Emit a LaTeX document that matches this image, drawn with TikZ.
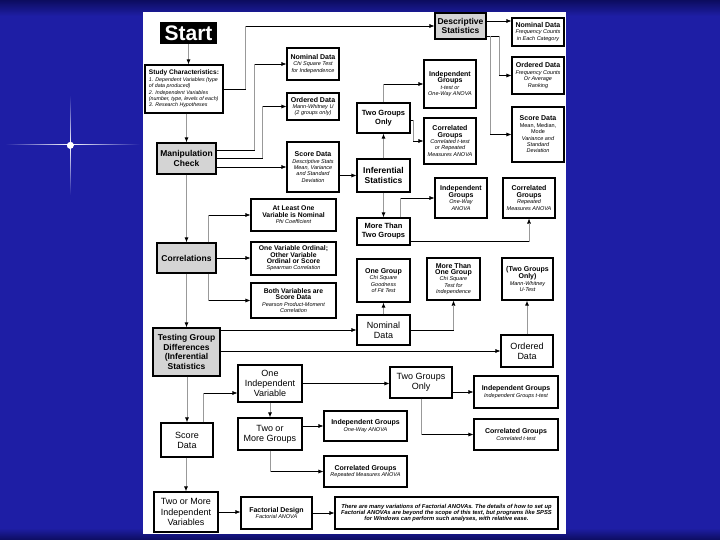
\documentclass[tikz,border=0pt]{standalone}
\usepackage{fontspec}
\setmainfont{Liberation Sans}
\usetikzlibrary{arrows.meta,fadings}
\definecolor{bgdark}{RGB}{12,12,95}
\definecolor{bgmid}{RGB}{30,30,165}
\definecolor{boxgray}{RGB}{212,212,212}
\tikzfading[name=fadeleft, left color=transparent!100, right color=transparent!0]
\tikzfading[name=faderight, left color=transparent!0, right color=transparent!100]
\tikzfading[name=fadeup, bottom color=transparent!0, top color=transparent!100]
\tikzfading[name=fadedown, top color=transparent!0, bottom color=transparent!100]
\newcommand{\ttl}[1]{{\fontsize{7}{8}\selectfont\bfseries\upshape #1}}
\newcommand{\ttm}[1]{{\fontsize{6.8}{7.8}\selectfont\bfseries\upshape #1}}
\tikzset{
  x=1pt, y=-1pt,
  box/.style={draw=black, line width=1.1pt, fill=white, inner sep=1pt, align=center,
    font=\fontsize{5.5}{6.4}\selectfont\itshape},
  graybox/.style={box, fill=boxgray, font=\fontsize{8.5}{9.6}\selectfont\bfseries},
  bigbox/.style={box, font=\fontsize{8.5}{9.6}\selectfont\bfseries},
  medbox/.style={box, font=\fontsize{9}{10.2}\selectfont},
  startbox/.style={fill=black, text=white, inner sep=0pt, minimum width=57pt, minimum height=22pt,
    font=\fontsize{21}{21}\selectfont\bfseries},
  conn/.style={draw=black, line width=0.6pt, -{Latex[length=5pt,width=4pt]}},
  vconn/.style={draw=black!40, line width=1pt, -{Latex[length=5pt,width=4pt,color=black]}},
  vseg/.style={draw=black!40, line width=1pt},
}
\begin{document}
\begin{tikzpicture}
\useasboundingbox (0,0) rectangle (720,540);
% background
\fill[bgmid] (0,0) rectangle (720,540);
\shade[top color=bgdark, bottom color=bgmid] (0,0) rectangle (720,16);
\shade[top color=bgmid, bottom color=bgdark] (0,528) rectangle (720,540);
% sparkle
\fill[white, path fading=faderight] (70,144.5) rectangle (140,145.5);
\fill[white, path fading=fadeleft] (5,144.5) rectangle (70,145.5);
\fill[white, path fading=fadeup] (69.5,95) rectangle (70.5,145);
\fill[white, path fading=fadedown] (69.5,145) rectangle (70.5,195);
\fill[white, path fading=circle with fuzzy edge 20 percent] (70,145) circle (4);
% white panel
\fill[white] (143,12) rectangle (566,534);

% nodes
\node[startbox] (start) at (188.5,33) {Start};
\node[box, align=left, minimum width=78pt, minimum height=48pt, font=\fontsize{5.3}{6.4}\selectfont\itshape] (study) at (184,89)
  {{\fontsize{6.6}{8}\selectfont\bfseries\upshape Study Characteristics:}\\ 1. Dependent Variables (type\\ of data produced)\\ 2. Independent Variables\\ (number, type, levels of each)\\ 3. Research Hypotheses};
\node[graybox, minimum width=51pt, minimum height=26pt] (desc) at (460.5,26) {Descriptive\\Statistics};
\node[box, minimum width=52pt, minimum height=28pt] (nomD) at (538,32) {\ttl{Nominal Data}\\Frequency Counts\\in Each Category};
\node[box, minimum width=52pt, minimum height=37pt] (ordD) at (538,75.5) {\ttl{Ordered Data}\\Frequency Counts\\Or Average\\Ranking};
\node[box, minimum width=52pt, minimum height=55pt] (scoD) at (538,134.5) {\ttl{Score Data}\\\textup{Mean, Median,}\\\textup{Mode}\\Variance and\\Standard\\Deviation};
\node[box, minimum width=52pt, minimum height=32pt] (nomM) at (313,64) {\ttl{Nominal Data}\\Chi Square Test\\for Independence};
\node[box, minimum width=52pt, minimum height=27pt] (ordM) at (313,106.5) {\ttl{Ordered Data}\\Mann-Whitney U\\(2 groups only)};
\node[box, minimum width=52pt, minimum height=50pt] (scoM) at (313,167) {\ttl{Score Data}\\Descriptive Stats\\Mean, Variance\\and Standard\\Deviation};
\node[graybox, minimum width=59pt, minimum height=31pt] (manip) at (186.5,158.5) {Manipulation\\Check};
\node[box, minimum width=53pt, minimum height=30pt, font=\fontsize{7.5}{9}\selectfont\bfseries] (two1) at (383.5,118) {Two Groups\\Only};
\node[box, minimum width=52pt, minimum height=48pt] (indU) at (450,84) {\ttl{Independent}\\\ttl{Groups}\\t-test or\\One-Way ANOVA};
\node[box, minimum width=52pt, minimum height=46pt] (corU) at (450,141) {\ttl{Correlated}\\\ttl{Groups}\\Correlated t-test\\or Repeated\\Measures ANOVA};
\node[bigbox, minimum width=53pt, minimum height=33pt] (infer) at (383.5,175.5) {Inferential\\Statistics};
\node[box, minimum width=52pt, minimum height=40pt] (indL) at (461,198) {\ttl{Independent}\\\ttl{Groups}\\One-Way\\ANOVA};
\node[box, minimum width=52pt, minimum height=40pt] (corL) at (529,198) {\ttl{Correlated}\\\ttl{Groups}\\Repeated\\Measures ANOVA};
\node[box, minimum width=53pt, minimum height=27pt, font=\fontsize{7.5}{9}\selectfont\bfseries] (more2) at (383.5,231.5) {More Than\\Two Groups};
\node[box, minimum width=85pt, minimum height=32pt] (atl) at (293.5,215) {\ttm{At Least One}\\\ttm{Variable is Nominal}\\Phi Coefficient};
\node[box, minimum width=85pt, minimum height=33pt] (ovo) at (293.5,258.5) {\ttm{One Variable Ordinal;}\\\ttm{Other Variable}\\\ttm{Ordinal or Score}\\Spearman Correlation};
\node[box, minimum width=85pt, minimum height=35pt] (both) at (293.5,300.5) {\ttm{Both Variables are}\\\ttm{Score Data}\\Pearson Product-Moment\\Correlation};
\node[graybox, minimum width=59pt, minimum height=30pt] (corr) at (186.5,258) {Correlations};
\node[box, minimum width=53pt, minimum height=43pt] (oneG) at (383.5,280.5) {\ttl{One Group}\\Chi Square\\Goodness\\of Fit Test};
\node[box, minimum width=53pt, minimum height=42pt] (mtoG) at (453.5,279) {\ttl{More Than}\\\ttl{One Group}\\Chi Square\\Test for\\Independence};
\node[box, minimum width=51pt, minimum height=42pt] (twoO) at (527.5,279) {\ttl{(Two Groups}\\\ttl{Only)}\\Mann-Whitney\\U-Test};
\node[medbox, minimum width=53pt, minimum height=30pt] (nomI) at (383.5,330) {Nominal\\Data};
\node[medbox, minimum width=52pt, minimum height=32pt] (ordI) at (527,351) {Ordered\\Data};
\node[graybox, minimum width=67pt, minimum height=48pt] (test) at (186.5,352) {Testing Group\\Differences\\(Inferential\\Statistics};
\node[medbox, minimum width=64pt, minimum height=37pt] (oneIV) at (270,383.5) {One\\Independent\\Variable};
\node[medbox, minimum width=62pt, minimum height=31pt] (two2) at (421,382.5) {Two Groups\\Only};
\node[box, minimum width=84pt, minimum height=32pt] (indB) at (516,392) {\ttl{Independent Groups}\\Independent Groups t-test};
\node[medbox, minimum width=64pt, minimum height=32pt] (tomG) at (270,434) {Two or\\More Groups};
\node[box, minimum width=83pt, minimum height=30pt] (indA) at (365.5,426) {\ttl{Independent Groups}\\One-Way ANOVA};
\node[box, minimum width=84pt, minimum height=31pt] (corB) at (516,434.5) {\ttl{Correlated Groups}\\Correlated t-test};
\node[medbox, minimum width=52pt, minimum height=34pt] (scoL) at (187,440) {Score\\Data};
\node[box, minimum width=83pt, minimum height=31pt] (corM) at (365.5,471.5) {\ttl{Correlated Groups}\\Repeated Measures ANOVA};
\node[medbox, minimum width=64pt, minimum height=40pt] (tomIV) at (186,512) {Two or More\\Independent\\Variables};
\node[box, minimum width=71pt, minimum height=32pt] (fact) at (276.5,513) {\ttl{Factorial Design}\\Factorial ANOVA};
\node[box, minimum width=223pt, minimum height=32pt, font=\fontsize{5.8}{6.3}\selectfont\bfseries\itshape] (note) at (446.5,513)
  {There are many variations of Factorial ANOVAs. The details of how to set up\\Factorial ANOVAs are beyond the scope of this text, but programs like SPSS\\for Windows can perform such analyses, with relative ease.};

% connector bend points
\coordinate (kStudy) at ([xshift=22pt]study.east);
\coordinate (kNomM) at ([xshift=38pt,yshift=8.5pt]manip.east);
\coordinate (kOrdM) at ([xshift=46pt,yshift=0.5pt]manip.east);
\coordinate (kCorU) at ([xshift=3pt,yshift=-2pt]two1.east);
\coordinate (kIndL) at ([xshift=-10pt]more2.north east);
\coordinate (kCorL) at ([yshift=-10pt]more2.east);
\coordinate (kAtl) at ([xshift=-8pt]corr.north east);
\coordinate (kBoth) at ([xshift=-8pt]corr.south east);
\coordinate (kSco) at ([xshift=-10pt]scoL.north east);
\coordinate (kOneIV) at ([yshift=-9.5pt]oneIV.west);
\coordinate (kOrdD) at ([xshift=13pt,yshift=-10pt]desc.east);
\coordinate (kScoD) at ([xshift=4pt,yshift=-10pt]desc.east);

% connectors
\draw[vconn] (start.south) -- (start.south |- study.north);
\draw[conn] (study.east) -- (kStudy) |- (desc.west);
\draw[vseg] (kStudy) -- (kStudy |- desc.west);
\draw[vconn] (manip.north |- study.south) -- (manip.north);
\draw[conn] ([yshift=8.5pt]manip.east) -- (kNomM) |- (nomM.west);
\draw[vseg] (kNomM) -- (kNomM |- nomM.west);
\draw[conn] ([yshift=0.5pt]manip.east) -- (kOrdM) |- (ordM.west);
\draw[vseg] (kOrdM) -- (kOrdM |- ordM.west);
\draw[conn] ([yshift=-8.5pt]manip.east) -- ([yshift=-8.5pt]manip.east -| scoM.west);
\draw[conn] (infer.west -| scoM.east) -- (infer.west);
\draw[vconn] (infer.north) -- (two1.south);
\draw[vconn] (infer.south) -- (more2.north);
\draw[conn] (two1.north) |- (indU.west);
\draw[vseg] (two1.north) -- (two1.north |- indU.west);
\draw[conn] ([yshift=-2pt]two1.east) -- (kCorU) |- (corU.west);
\draw[vseg] (kCorU) -- (kCorU |- corU.west);
\draw[conn] (kIndL) |- (indL.west);
\draw[vseg] (kIndL) -- (kIndL |- indL.west);
\draw[conn] (kCorL) -| (corL.south);
\draw[vseg, shorten >=4pt] (kCorL -| corL.south) -- (corL.south);
\draw[conn] (kAtl) |- (atl.west);
\draw[vseg] (kAtl) -- (kAtl |- atl.west);
\draw[conn] (corr.east) -- (corr.east -| ovo.west);
\draw[conn] (kBoth) |- (both.west);
\draw[vseg] (kBoth) -- (kBoth |- both.west);
\draw[vconn] (manip.south) -- (corr.north);
\draw[vconn] (corr.south) -- (test.north);
\draw[conn] (test.east |- nomI.west) -- (nomI.west);
\draw[conn] (test.east |- ordI.west) -- (ordI.west);
\draw[vconn] (nomI.north) -- (oneG.south);
\draw[conn] (nomI.east) -| (mtoG.south);
\draw[vseg, shorten >=4pt] (nomI.east -| mtoG.south) -- (mtoG.south);
\draw[vconn] (ordI.north) -- (ordI.north |- twoO.south);
\draw[vconn] (scoL.north |- test.south) -- (scoL.north);
\draw[conn] (kSco) |- (kOneIV);
\draw[vseg] (kSco) -- (kSco |- kOneIV);
\draw[conn] (oneIV.east) -- (oneIV.east -| two2.west);
\draw[vconn] (oneIV.south) -- (tomG.north);
\draw[conn] (tomG.east |- indA.west) -- (indA.west);
\draw[conn] (tomG.south) |- (corM.west);
\draw[vseg] (tomG.south) -- (tomG.south |- corM.west);
\draw[conn] (two2.east |- indB.west) -- (indB.west);
\draw[conn] (two2.south) |- (corB.west);
\draw[vseg] (two2.south) -- (two2.south |- corB.west);
\draw[vconn] (tomIV.north |- scoL.south) -- (tomIV.north);
\draw[conn] (tomIV.east) -- (tomIV.east -| fact.west);
\draw[conn] (fact.east) -- (note.west);
\draw[conn] ([yshift=5pt]desc.east) -- ([yshift=5pt]desc.east -| nomD.west);
\draw[conn] ([yshift=-10pt]desc.east) -- (kOrdD) |- (ordD.west);
\draw[vseg] (kOrdD) -- (kOrdD |- ordD.west);
\draw[conn] ([yshift=-10pt]desc.east) -- (kScoD) |- (scoD.west);
\draw[vseg] (kScoD) -- (kScoD |- scoD.west);
\end{tikzpicture}
\end{document}
